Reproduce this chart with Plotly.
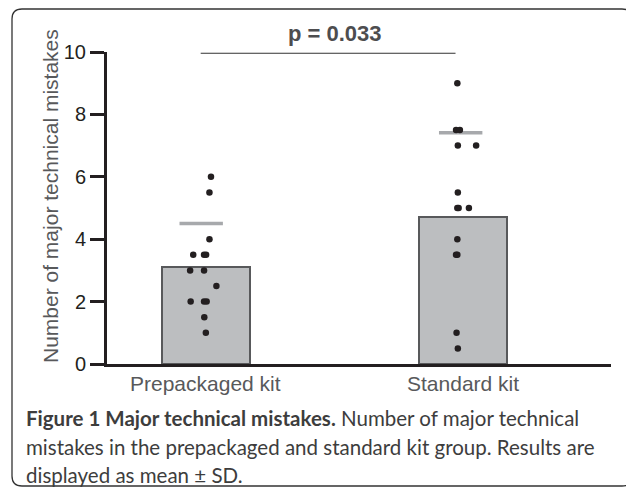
import plotly.graph_objects as go

# ---- data ----
groups = ["Prepackaged kit", "Standard kit"]
group_pos = [0, 1]
means = [3.1, 4.72]
mean_plus_sd = [4.5, 7.41]
sd_offsets = [-0.018, -0.010]

pre_values = [6.0, 5.5, 4.0, 3.5, 3.5, 3.5, 3.0, 3.0, 2.5, 2.0, 2.0, 2.0, 1.5, 1.0]
pre_jitter = [0.020, 0.014, 0.014, -0.049, -0.007, 0.001, -0.061, -0.007, 0.041, -0.059, -0.007, 0.003, -0.006, 0.0]
std_values = [9.0, 7.5, 7.5, 7.0, 7.0, 5.5, 5.0, 5.0, 5.0, 4.0, 3.5, 3.5, 1.0, 0.5]
std_jitter = [-0.023, -0.028, -0.013, -0.021, 0.050, -0.021, -0.023, -0.018, 0.022, -0.023, -0.028, -0.023, -0.026, -0.021]

y_ticks = [0, 2, 4, 6, 8, 10]
y_title = "Number of major technical mistakes"
p_text = "p = 0.033"
caption_lines = [
    "<b>Figure 1 Major technical mistakes.</b> Number of major technical",
    "mistakes in the prepackaged and standard kit group. Results are",
    "displayed as mean ± SD.",
]

DARK = "#231f20"
GRAY_TXT = "#58595b"

fig = go.Figure()
fig.add_trace(go.Bar(
    x=group_pos, y=means, width=0.342,
    marker=dict(color="#bcbec0", line=dict(color="#58595b", width=2)),
    hoverinfo="skip", showlegend=False))

fig.add_trace(go.Scatter(
    x=[g + o for g, o in zip(group_pos, sd_offsets)], y=mean_plus_sd, mode="markers",
    marker=dict(symbol="line-ew", size=31, line=dict(color="#a7a9ac", width=3.5)),
    showlegend=False, hoverinfo="skip"))

fig.add_trace(go.Scatter(
    x=[group_pos[0] + j for j in pre_jitter], y=pre_values, mode="markers",
    marker=dict(color=DARK, size=6.5), showlegend=False))
fig.add_trace(go.Scatter(
    x=[group_pos[1] + j for j in std_jitter], y=std_values, mode="markers",
    marker=dict(color=DARK, size=6.5), showlegend=False))

# significance bar between the groups
fig.add_shape(type="line", xref="x", yref="y", x0=group_pos[0] - 0.02, x1=group_pos[1] - 0.03,
              y0=9.96, y1=9.96, line=dict(color="#333333", width=1))
fig.add_annotation(x=sum(group_pos) / 2, xref="x", y=(364 - 33) / 312, yref="paper",
                   text="<b>" + p_text + "</b>",
                   showarrow=False, font=dict(size=22, color="#4d4d4f", family="Liberation Sans"),
                   xanchor="center", yanchor="middle")

# x category labels (under the bars)
for gx, g in zip(group_pos, groups):
    fig.add_annotation(x=gx, xref="x", y=-0.063, yref="paper", text=g, showarrow=False,
                       font=dict(size=21, color=GRAY_TXT, family="Liberation Sans"),
                       xanchor="center", yanchor="middle")

# y title
fig.add_annotation(x=(50 - 107) / 504, xref="paper", y=(364 - 196) / 312, yref="paper",
                   text=y_title, textangle=-90,
                   showarrow=False, font=dict(size=21, color=GRAY_TXT, family="Liberation Sans"),
                   xanchor="center", yanchor="middle")

# caption
cap_y_px = [418, 447, 475]
for py, line in zip(cap_y_px, caption_lines):
    fig.add_annotation(x=(24 - 107) / 504, xref="paper", y=(364 - py) / 312, yref="paper",
                       text=line, showarrow=False, align="left",
                       font=dict(size=20.5, color="#3d3d3d", family="Lato"),
                       xanchor="left", yanchor="middle")

# frame
x0, x1 = (12 - 107) / 504, (632 - 107) / 504
y1, y0 = (364 - 9) / 312, (364 - 486) / 312
rx, ry = 10 / 504, 10 / 312
path = (f"M {x0+rx},{y1} L {x1-rx},{y1} Q {x1},{y1} {x1},{y1-ry} L {x1},{y0+ry} "
        f"Q {x1},{y0} {x1-rx},{y0} L {x0+rx},{y0} Q {x0},{y0} {x0},{y0+ry} "
        f"L {x0},{y1-ry} Q {x0},{y1} {x0+rx},{y1} Z")
fig.add_shape(type="path", xref="paper", yref="paper", path=path,
              line=dict(color="#333333", width=1.3), layer="below")

# page body has an 8px margin, so the figure is 626x482 placed at (8, 8)
fig.update_layout(
    width=626, height=482,
    margin=dict(l=99, r=23, t=44, b=126),
    paper_bgcolor="white", plot_bgcolor="white",
    font=dict(family="Liberation Sans", color=DARK),
    xaxis=dict(range=[-0.384, 1.574], showgrid=False, zeroline=False, showticklabels=False,
               ticks="", showline=True, linecolor=DARK, linewidth=3),
    yaxis=dict(range=[0, 10], tickvals=y_ticks, showgrid=False, zeroline=False,
               showline=True, linecolor=DARK, linewidth=3, ticks="outside",
               ticklen=14, tickwidth=3, tickcolor=DARK,
               tickfont=dict(size=20, color=DARK, family="Liberation Sans")),
    bargap=0,
)

fig.write_html("out.html")
